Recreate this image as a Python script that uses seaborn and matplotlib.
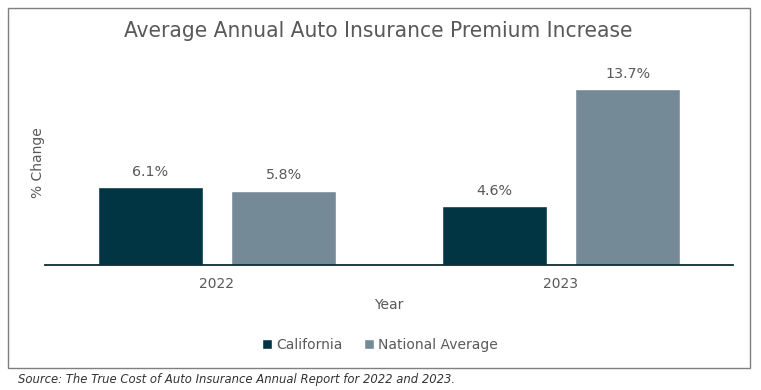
import pandas as pd
import matplotlib.pyplot as plt
import seaborn as sns
from matplotlib.patches import Rectangle

years = ["2022", "2023"]
california = [6.1, 4.6]
national = [5.8, 13.7]
series_names = ["California", "National Average"]
colors = ["#023543", "#748B97"]

df = pd.DataFrame({
    "Year": years * 2,
    "Change": california + national,
    "Region": [series_names[0]] * 2 + [series_names[1]] * 2,
})

sns.set_style("white")
plt.rcParams["font.family"] = ["DejaVu Sans"]
text_color = "#595959"

fig = plt.figure(figsize=(7.61, 3.90), dpi=100)
ax = fig.add_axes([45 / 761, 1 - 265 / 390, 688 / 761, 205 / 390])

sns.barplot(data=df, x="Year", y="Change", hue="Region", saturation=1,
            palette=colors, width=0.776, gap=0.21, ax=ax, legend=True)

ax.set_xlim(-0.5, 1.5)
ax.set_ylim(0, 16)
ax.set_yticks([])
for side in ["top", "right", "left"]:
    ax.spines[side].set_visible(False)
ax.spines["bottom"].set_color("#0d2b33")
ax.spines["bottom"].set_linewidth(1.3)

for cont in ax.containers:
    ax.bar_label(cont, labels=[f"{v:.1f}%" for v in cont.datavalues],
                 padding=6, fontsize=10.3, color=text_color)

ax.tick_params(axis="x", length=0, pad=9, labelsize=10, labelcolor=text_color)
ax.set_xlabel("Year", fontsize=10, color=text_color, labelpad=5)
ax.set_ylabel("% Change", fontsize=10, color=text_color, labelpad=0)

ax.legend(loc="center", bbox_to_anchor=(380 / 761, 1 - 345 / 390),
          bbox_transform=fig.transFigure, ncol=2, frameon=False,
          fontsize=10, handlelength=0.75, handleheight=0.75, handletextpad=0.3,
          columnspacing=1.5, labelcolor=text_color)

fig.text(378 / 761, 1 - 31 / 390, "Average Annual Auto Insurance Premium Increase",
         ha="center", va="center", fontsize=16.2, color=text_color, fontstretch="condensed")

fig.patches.append(Rectangle((8 / 761, 1 - 368 / 390), 742 / 761, 360 / 390,
                             transform=fig.transFigure, fill=False,
                             edgecolor="#7f7f7f", linewidth=1))

fig.text(18 / 761, 1 - 379 / 390,
         "Source: The True Cost of Auto Insurance Annual Report for 2022 and 2023.",
         ha="left", va="center", fontsize=8.4, style="italic", color="#333333")

fig.savefig("out.png", dpi=100)
